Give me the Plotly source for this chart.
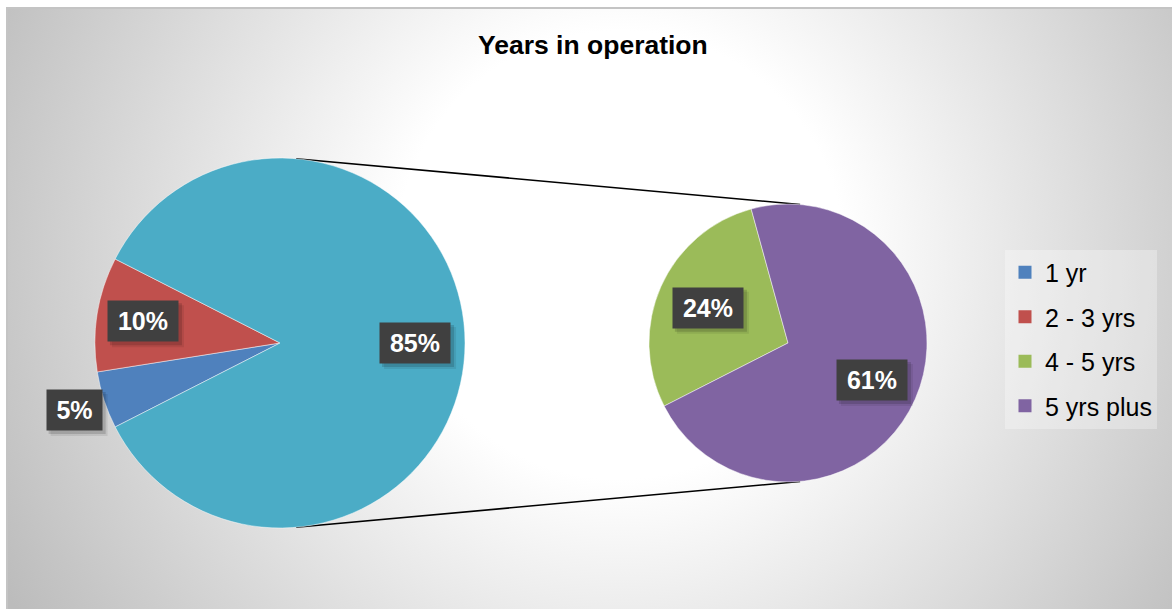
import base64
import math
import plotly.graph_objects as go

# ---- data -------------------------------------------------------------
main_labels = ["1 yr", "2 - 3 yrs"]
main_values = [5, 10]
split_labels = ["4 - 5 yrs", "5 yrs plus"]
split_values = [24, 61]
other_label = "Other"

main_colors = ["#4F81BD", "#C0504D"]
other_color = "#4BACC6"
split_colors = ["#9BBB59", "#8064A2"]

title_text = "Years in operation"

# ---- geometry (pixels) -------------------------------------------------
W, H = 1172, 609
main_c, main_r = (280, 343), 185
sub_c, sub_r = (788, 343), 139
start_angle = 207.0        # math degrees where the first slice begins (drawn clockwise)
connector_angle = 85.0     # where the connector lines touch both pies


def fx(x):
    return x / W


def fy(y):
    return 1 - y / H


def domain(c, r):
    return dict(x=[fx(c[0] - r), fx(c[0] + r)], y=[fy(c[1] + r), fy(c[1] - r)])


font_family = "Liberation Sans, Arial, sans-serif"

fig = go.Figure()

# primary pie: small categories plus the aggregated remainder
p_vals = main_values + [sum(split_values)]
p_labels = main_labels + [other_label]
fig.add_trace(go.Pie(
    values=p_vals, labels=p_labels, sort=False, direction="clockwise",
    rotation=90 - start_angle, textinfo="none", hoverinfo="label+percent",
    marker=dict(colors=main_colors + [other_color],
                line=dict(color="rgba(255,255,255,0.6)", width=0.8)),
    domain=domain(main_c, main_r), showlegend=False,
))

# secondary pie: breakdown of the remainder
fig.add_trace(go.Pie(
    values=split_values, labels=split_labels, sort=False, direction="clockwise",
    rotation=90 - start_angle, textinfo="none", hoverinfo="label+percent",
    marker=dict(colors=split_colors,
                line=dict(color="rgba(255,255,255,0.6)", width=0.8)),
    domain=domain(sub_c, sub_r), showlegend=False,
))

# legend entries
for lab, col in zip(main_labels + split_labels, main_colors + split_colors):
    fig.add_trace(go.Scatter(
        x=[None], y=[None], mode="markers", name=lab, legendgroup=lab,
        marker=dict(symbol="square", size=13, color=col),
    ))


# ---- data labels --------------------------------------------------------
def slice_mids(values, total):
    mids, a = [], start_angle
    for v in values:
        span = 360.0 * v / total
        mids.append(a - span / 2)
        a -= span
    return mids


grand_total = sum(p_vals)
label_specs = []
for v, m, k in zip(p_vals, slice_mids(p_vals, grand_total), [1.17, 0.75, 0.73]):
    label_specs.append((v, main_c, main_r, m, k))
for v, m, k in zip(split_values, slice_mids(split_values, sum(split_values)), [0.63, 0.66]):
    label_specs.append((v, sub_c, sub_r, m, k))

shapes = []
annotations = []
box_h, pad = 34, 3
for v, c, r, m, k in label_specs:
    pct = round(100 * v / grand_total)
    txt = f"<b>{pct}%</b>"
    x = c[0] + k * r * math.cos(math.radians(m))
    y = c[1] - k * r * math.sin(math.radians(m))
    w = 49 if pct < 10 else 64
    hw, hh = w / 2 + pad + 1, box_h / 2 + pad + 1
    # soft drop shadow behind the label box
    for off, alpha in ((5, 0.08), (3, 0.14)):
        shapes.append(dict(
            type="rect", xref="paper", yref="paper", layer="above",
            x0=fx(x - hw + off), x1=fx(x + hw + off),
            y0=fy(y + hh + off), y1=fy(y - hh + off),
            line=dict(width=0), fillcolor=f"rgba(0,0,0,{alpha})",
        ))
    annotations.append(dict(
        x=fx(x), y=fy(y), xref="paper", yref="paper",
        xanchor="center", yanchor="middle", showarrow=False,
        text=txt, font=dict(family=font_family, size=25, color="white"),
        bgcolor="#404040", width=w, height=box_h, borderpad=pad,
    ))

annotations.append(dict(
    x=fx(593), y=fy(45), xref="paper", yref="paper", showarrow=False,
    text=f"<b>{title_text}</b>", font=dict(family=font_family, size=26.5, color="black"),
    xanchor="center", yanchor="middle",
))

# ---- connector lines -----------------------------------------------------
for sgn in (1, -1):
    a = math.radians(sgn * connector_angle)
    x0 = main_c[0] + main_r * math.cos(a)
    y0 = main_c[1] - main_r * math.sin(a)
    x1 = sub_c[0] + sub_r * math.cos(a)
    y1 = sub_c[1] - sub_r * math.sin(a)
    shapes.append(dict(type="line", xref="paper", yref="paper", layer="below",
                       x0=fx(x0), y0=fy(y0), x1=fx(x1), y1=fy(y1),
                       line=dict(color="black", width=1.6)))

# chart-area border
area_x0, area_y0 = 7, 8
shapes.append(dict(type="rect", xref="paper", yref="paper", layer="above",
                   x0=fx(area_x0), y0=fy(H + 2), x1=fx(W + 2), y1=fy(area_y0),
                   line=dict(color="#c4c4c4", width=2), fillcolor="rgba(0,0,0,0)"))

# ---- radial gradient backdrop ---------------------------------------------
gw, gh = W - area_x0, H - area_y0
svg = (
    f'<svg xmlns="http://www.w3.org/2000/svg" width="{gw}" height="{gh}" '
    f'viewBox="0 0 {gw} {gh}" preserveAspectRatio="none">'
    '<defs><radialGradient id="g" gradientUnits="userSpaceOnUse" '
    f'cx="{620 - area_x0}" cy="{255 - area_y0}" r="700">'
    '<stop offset="0" stop-color="#ffffff"/>'
    '<stop offset="0.32" stop-color="#ffffff"/>'
    '<stop offset="1" stop-color="#bcbcbc"/>'
    '</radialGradient></defs>'
    f'<rect width="{gw}" height="{gh}" fill="url(#g)"/></svg>'
)
bg_src = "data:image/svg+xml;base64," + base64.b64encode(svg.encode()).decode()

fig.update_layout(
    width=W, height=H,
    margin=dict(l=0, r=0, t=0, b=0),
    paper_bgcolor="white", plot_bgcolor="rgba(0,0,0,0)",
    xaxis=dict(visible=False), yaxis=dict(visible=False),
    images=[dict(source=bg_src, xref="paper", yref="paper",
                 x=fx(area_x0), y=fy(area_y0), sizex=gw / W, sizey=gh / H,
                 xanchor="left", yanchor="top", sizing="stretch", layer="below")],
    shapes=shapes,
    annotations=annotations,
    legend=dict(
        x=fx(1005), y=fy(339), xanchor="left", yanchor="middle",
        font=dict(family=font_family, size=25, color="black"),
        bgcolor="rgba(255,255,255,0.3)", tracegroupgap=9,
        itemwidth=30,
    ),
    showlegend=True,
)

fig.write_html("out.html")
